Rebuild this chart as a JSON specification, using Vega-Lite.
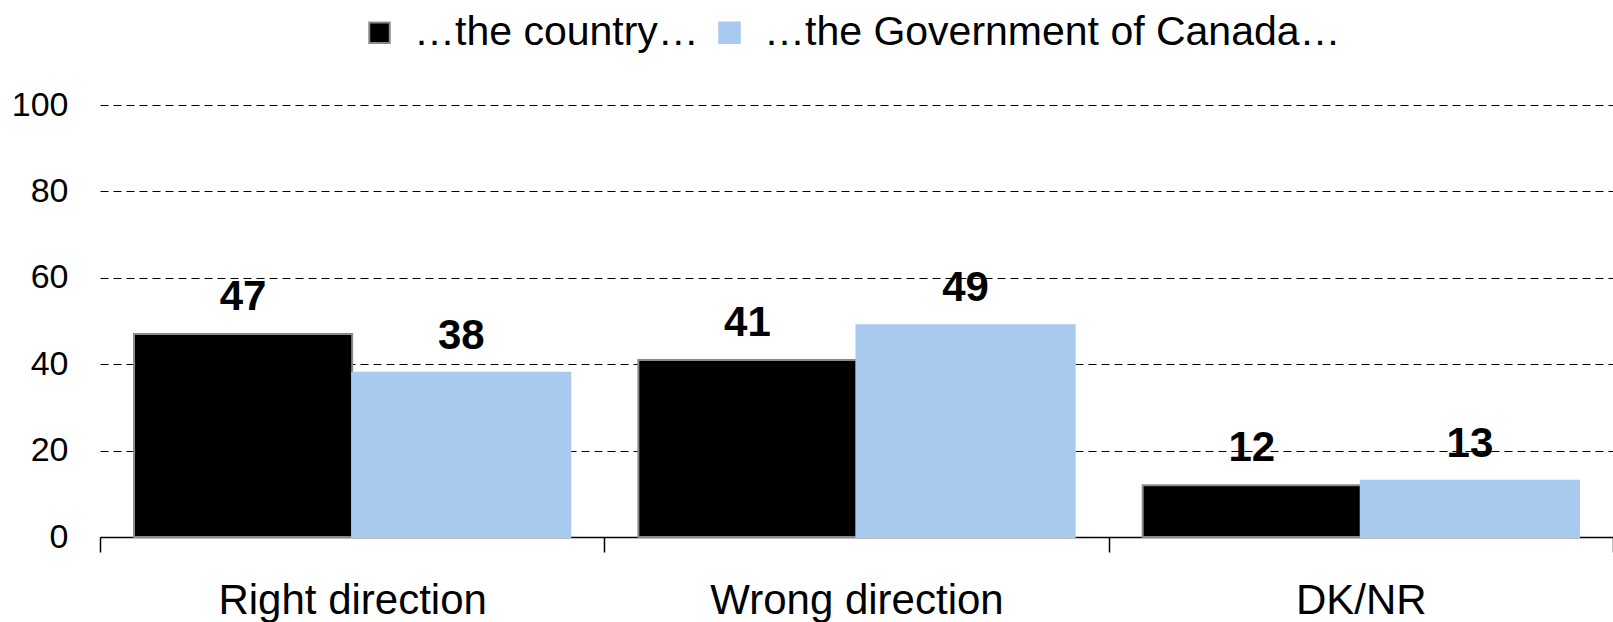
{
  "$schema": "https://vega.github.io/schema/vega-lite/v6.json",
  "width": 1513,
  "height": 432,
  "autosize": {"type": "none"},
  "padding": {"left": 100, "top": 105, "right": 0, "bottom": 85},
  "background": "white",
  "config": {
    "font": "Liberation Sans",
    "view": {"stroke": null}
  },
  "data": {
    "values": [
      {"answer": "Right direction", "series": "…the country…", "value": 47},
      {"answer": "Right direction", "series": "…the Government of Canada…", "value": 38},
      {"answer": "Wrong direction", "series": "…the country…", "value": 41},
      {"answer": "Wrong direction", "series": "…the Government of Canada…", "value": 49},
      {"answer": "DK/NR", "series": "…the country…", "value": 12},
      {"answer": "DK/NR", "series": "…the Government of Canada…", "value": 13}
    ]
  },
  "encoding": {
    "x": {
      "field": "answer",
      "type": "nominal",
      "sort": ["Right direction", "Wrong direction", "DK/NR"],
      "scale": {"paddingInner": 0, "paddingOuter": 0},
      "axis": {
        "title": null,
        "labelAngle": 0,
        "labelFontSize": 42,
        "labelColor": "black",
        "labelPadding": 61,
        "labelBaseline": "alphabetic",
        "labelLimit": 1000,
        "tickBand": "extent",
        "tickSize": 15,
        "tickColor": "black",
        "tickWidth": 1.5,
        "domainColor": "black",
        "domainWidth": 1.5,
        "grid": false
      }
    },
    "xOffset": {
      "field": "series",
      "type": "nominal",
      "sort": ["…the country…", "…the Government of Canada…"],
      "scale": {"paddingInner": 0, "paddingOuter": 0.156}
    },
    "y": {
      "field": "value",
      "type": "quantitative",
      "scale": {"domain": [0, 100]},
      "axis": {
        "title": null,
        "values": [0, 20, 40, 60, 80, 100],
        "grid": true,
        "gridColor": "black",
        "gridDash": [8, 5],
        "gridWidth": 1,
        "domain": false,
        "ticks": false,
        "labelFontSize": 34,
        "labelColor": "black",
        "labelPadding": 32
      }
    }
  },
  "layer": [
    {
      "mark": {"type": "bar", "strokeWidth": 2},
      "encoding": {
        "color": {
          "field": "series",
          "type": "nominal",
          "sort": ["…the country…", "…the Government of Canada…"],
          "scale": {"domain": ["…the country…", "…the Government of Canada…"], "range": ["#000000", "#a8caee"]},
          "legend": {
            "title": null,
            "orient": "none",
            "direction": "horizontal",
            "legendX": 259,
            "legendY": -93,
            "symbolType": "square",
            "symbolSize": 420,
            "symbolStrokeWidth": 2,
            "labelFontSize": 41,
            "labelColor": "black",
            "labelLimit": 1000,
            "labelOffset": 14,
            "columnPadding": 10,
            "padding": 0
          }
        },
        "stroke": {
          "field": "series",
          "type": "nominal",
          "sort": ["…the country…", "…the Government of Canada…"],
          "scale": {"domain": ["…the country…", "…the Government of Canada…"], "range": ["#8a8a8a", "#a8caee"]},
          "legend": {
            "title": null,
            "orient": "none",
            "direction": "horizontal",
            "legendX": 259,
            "legendY": -93,
            "symbolType": "square",
            "symbolSize": 420,
            "symbolStrokeWidth": 2,
            "labelFontSize": 41,
            "labelColor": "black",
            "labelLimit": 1000,
            "labelOffset": 14,
            "columnPadding": 10,
            "padding": 0
          }
        }
      }
    },
    {
      "mark": {"type": "text", "baseline": "alphabetic", "dy": -24, "fontSize": 42, "fontWeight": "bold", "color": "black"},
      "encoding": {
        "text": {"field": "value", "type": "quantitative"}
      }
    }
  ]
}
